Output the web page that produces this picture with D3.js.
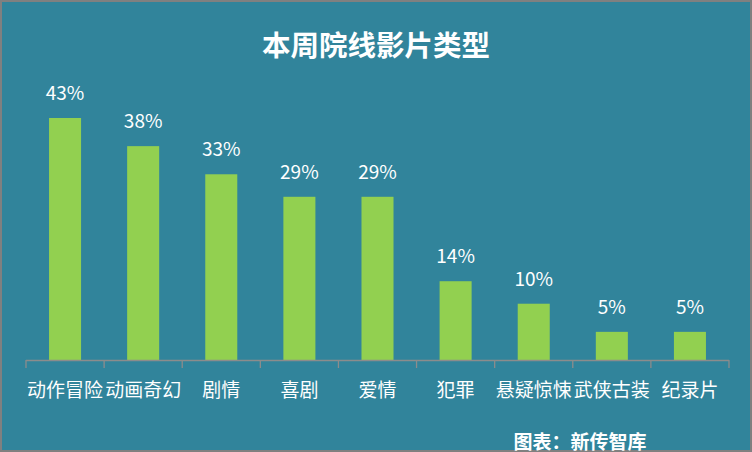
<!DOCTYPE html>
<html><head><meta charset="utf-8">
<script src="https://cdn.jsdelivr.net/npm/d3@7"></script>
<style>
html,body{margin:0;padding:0;background:#fff;}
svg{display:block;}
text{font-family:"Noto Sans CJK SC","Microsoft YaHei",sans-serif;}
</style></head>
<body><svg id="c" width="752" height="452"></svg>
<script>
const categories = ["动作冒险","动画奇幻","剧情","喜剧","爱情","犯罪","悬疑惊悚","武侠古装","纪录片"];
const values = [43,38,33,29,29,14,10,5,5];
const title = "本周院线影片类型";
const source = "图表：新传智库";

const W=752,H=452;
const svg=d3.select("#c");
svg.append("rect").attr("x",1).attr("y",1).attr("width",W-2).attr("height",H-2)
  .attr("fill","#31849B").attr("stroke","#808080").attr("stroke-width",2);

const left=26,right=729,baseY=360;
const x=d3.scaleBand().domain(categories).range([left,right]).paddingInner(0.59).paddingOuter(0.295);
const xb=d3.scaleBand().domain(categories).range([left,right]);
const y=d3.scaleLinear().domain([0,43]).range([baseY,118]);

svg.append("text").attr("x",376).attr("y",56).attr("text-anchor","middle")
  .attr("fill","#fff").attr("font-size",28.5).attr("font-weight","bold").text(title);

svg.selectAll("rect.bar").data(values).join("rect").attr("class","bar")
  .attr("x",(d,i)=>x(categories[i])).attr("width",x.bandwidth())
  .attr("y",d=>y(d)).attr("height",d=>baseY-y(d)).attr("fill","#92D050");

svg.selectAll("text.val").data(values).join("text").attr("class","val")
  .attr("x",(d,i)=>xb(categories[i])+xb.bandwidth()/2).attr("y",d=>y(d)-18)
  .attr("text-anchor","middle").attr("fill","#fff").attr("font-size",19).text(d=>d+"%");

// axis
const ax=svg.append("g");
ax.append("line").attr("x1",left).attr("x2",right).attr("y1",baseY+0.5).attr("y2",baseY+0.5)
  .attr("stroke","#8c8c8c").attr("stroke-width",1.3);
const ticks=categories.map(c=>xb(c)).concat([right]);
ax.selectAll("line.t").data(ticks).join("line").attr("class","t")
  .attr("x1",d=>d).attr("x2",d=>d).attr("y1",baseY).attr("y2",baseY+8)
  .attr("stroke","#8c8c8c").attr("stroke-width",1.3);
ax.selectAll("text.cat").data(categories).join("text").attr("class","cat")
  .attr("x",d=>xb(d)+xb.bandwidth()/2).attr("y",397).attr("text-anchor","middle")
  .attr("fill","#fff").attr("font-size",19).text(d=>d);

svg.append("text").attr("x",580).attr("y",449).attr("text-anchor","middle")
  .attr("fill","#fff").attr("font-size",19).attr("font-weight","bold").text(source);
</script></body></html>
